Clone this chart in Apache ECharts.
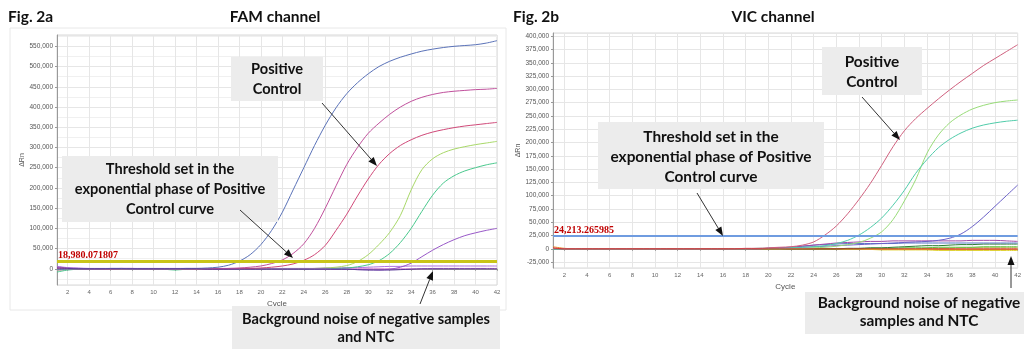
<!DOCTYPE html>
<html>
<head>
<meta charset="utf-8">
<script src="https://cdn.jsdelivr.net/npm/echarts@6/dist/echarts.min.js"></script>
<style>
html,body{margin:0;padding:0;background:#fff;}
#chart{width:1024px;height:349px;}
</style>
</head>
<body>
<div id="chart"></div>
<script>
// cycle numbers (x axis)
var cycles = [1,2,3,4,5,6,7,8,9,10,11,12,13,14,15,16,17,18,19,20,21,22,23,24,25,26,27,28,29,30,31,32,33,34,35,36,37,38,39,40,41,42];

// thresholds (ΔRn)
var famThreshold = 18980.071807;
var vicThreshold = 24213.265985;

// FAM channel curves, ΔRn in thousands
var famBlue = [-2,-1,0,0,0,1,1,0,0,0, 0,0,1,1,2,4,9,19,35,60, 95,140,195,250,305,355,398,433,460,482, 500,513,523,531,538,543,547,550,552,554, 558,564];
var famMagenta = [3,1,0,0,0,0,1,1,0,0, 0,0,0,0,0,0,1,2,4,7, 13,22,38,62,100,150,205,258,300,335, 360,382,400,414,424,431,436,439,441,443, 444,446];
var famCrimson = [1,0,0,0,0,0,0,0,0,0, 0,0,0,0,0,0,0,1,1,2, 4,7,12,21,35,58,95,135,180,222, 258,285,305,319,330,338,344,349,353,356, 359,362];
var famLime = [-3,-1,0,0,0,0,0,0,0,0, 0,-1,0,0,0,0,0,0,0,0, 0,0,0,0,1,2,4,8,18,35, 60,90,132,195,245,272,287,296,302,307, 311,315];
var famGreen = [-8,-3,-1,0,0,0,0,0,0,0, -1,-3,-1,0,0,0,0,0,0,0, 0,0,0,0,0,1,1,2,5,10, 20,38,65,100,142,182,212,230,242,250, 257,262];
var famPurple = [5,2,1,0,0,0,0,0,0,0, 0,0,0,0,0,0,0,0,0,0, 0,0,0,0,0,0,-1,-1,-2,-2, -3,-1,4,14,30,46,60,72,82,89, 95,100];
var famNeg1 = [6,3,2,1,1,1,1,1,1,1, 1,1,1,1,1,1,1,1,1,1, 1,1,1,1,1,2,2,3,3,4, 5,6,6,7,7,7,7,7,7,7, 7,7];
var famNeg2 = [-4,-2,-1,0,0,0,0,0,0,0, 0,0,0,0,0,0,0,0,0,0, 0,0,0,0,0,0,0,0,0,0, 0,0,0,0,0,1,1,1,1,1, 1,1];
var famNeg3 = [2,1,0,0,0,0,0,0,0,0, 0,0,0,0,-1,-1,-1,-1,-1,-1, -1,-1,-1,-1,-1,-1,-1,-1,-2,-3, -3,-3,-2,-1,0,0,0,0,0,0, 0,0];

// VIC channel curves, ΔRn in thousands
var vicCrimson = [1,0,0,0,0,0,0,0,0,0, 0,0,0,0,0,0,0,1,1,2, 3,4,7,13,26,43,66,93,123,157, 192,222,245,264,282,299,315,330,345,358, 371,384];
var vicTeal = [0,0,0,0,0,0,0,0,0,0, 0,0,0,0,0,0,0,0,1,1, 1,2,3,4,6,10,16,26,40,58, 82,110,142,168,190,206,218,227,233,237, 240,242];
var vicLime = [0,0,0,0,0,0,0,0,0,0, 0,0,0,0,0,0,0,0,0,0, 0,1,1,2,3,5,8,12,20,32, 55,90,130,180,214,237,252,263,270,275, 278,280];
var vicViolet = [0,0,0,0,0,0,0,0,0,0, 0,0,0,0,0,0,0,0,0,1, 1,2,3,4,5,6,7,8,9,10, 11,12,13,14,16,20,28,42,60,80, 100,120];
var vicNeg1 = [0,0,0,0,0,0,0,0,0,0, 0,0,0,0,0,0,0,0,0,1, 2,3,5,7,9,11,12,13,14,14, 15,15,15,15,15,15,15,16,16,16, 15,14];
var vicNeg2 = [0,0,0,0,0,0,0,0,0,0, 0,0,0,0,0,0,0,0,0,1, 2,3,5,7,8,9,10,10,10,10, 10,11,11,11,11,11,11,11,11,11, 11,11];
var vicNeg3 = [0,0,0,0,0,0,0,0,0,0, 0,0,0,0,0,0,0,0,0,0, 0,0,0,0,0,0,1,1,2,2, 3,4,5,6,6,7,8,8,9,9, 9,9];
var vicNeg4 = [0,0,0,0,0,0,0,0,0,0, 0,0,0,0,0,0,0,0,0,0, 0,0,0,0,0,0,0,0,1,1, 1,2,2,2,3,3,3,3,4,4, 4,4];
var vicNeg5 = [0,0,0,0,0,0,0,0,0,0, 0,0,0,0,0,0,0,0,0,0, 0,0,0,0,0,0,-1,-1,-1,-2, -2,-2,-2,-2,-3,-3,-3,-3,-3,-3, -3,-3];
var vicNeg6 = [4,1,0,0,0,0,0,0,0,0, 0,0,0,0,0,0,0,0,0,0, 0,0,0,0,0,0,0,0,0,-1, -1,-1,-1,-1,-1,-1,-1,-1,-1,-1, -1,-1];
var vicNeg7 = [0,0,0,0,0,0,0,0,0,0, 0,0,0,0,0,0,0,0,0,0, 0,0,0,0,0,0,0,0,0,0, 0,0,0,1,1,1,2,2,2,2, 2,2];
var vicNeg8 = [2,0,0,0,0,0,0,0,0,0, 0,0,0,0,0,0,0,0,0,0, 0,0,0,0,0,0,0,0,0,0, 0,0,0,0,0,0,0,0,0,0, 0,0];

function pairs(arr) {
    return arr.map(function (v, i) { return [cycles[i], v * 1000]; });
}

function curve(arr, color, idx) {
    return {
        type: 'line',
        xAxisIndex: idx,
        yAxisIndex: idx,
        data: pairs(arr),
        smooth: 0.3,
        symbol: 'none',
        silent: true,
        lineStyle: { color: color, width: 1 },
        z: 3
    };
}

function fmt(v) {
    return String(v).replace(/\B(?=(\d{3})+(?!\d))/g, ',');
}

function threshold(value, color, width) {
    return {
        silent: true,
        symbol: 'none',
        lineStyle: { color: color, width: width, type: 'solid' },
        label: {
            position: 'insideStartTop',
            distance: 1,
            formatter: fmt(Math.floor(value)) + '.' + String(value).split('.')[1],
            color: '#c00000',
            fontFamily: 'Liberation Serif',
            fontWeight: 'bold',
            fontSize: 10
        },
        data: [{ yAxis: value }]
    };
}

function xAx(idx, gap) {
    return {
        type: 'value',
        gridIndex: idx,
        min: 1,
        max: 42,
        minInterval: 2,
        maxInterval: 2,
        name: 'Cycle',
        nameLocation: 'middle',
        nameGap: gap,
        nameTextStyle: { fontFamily: 'Liberation Sans', fontSize: 8, color: '#555' },
        axisLine: { lineStyle: { color: '#999' } },
        axisTick: { length: 2, lineStyle: { color: '#999' } },
        axisLabel: { fontFamily: 'Liberation Sans', fontSize: 6, color: '#666', margin: 4, showMinLabel: false },
        splitLine: { lineStyle: { color: '#e6e6e6' } }
    };
}

function yAx(idx, min, max, step, minor) {
    return {
        type: 'value',
        gridIndex: idx,
        min: min,
        max: max,
        minInterval: step,
        maxInterval: step,
        name: 'ΔRn',
        nameLocation: 'middle',
        nameGap: idx ? 31 : 22,
        nameTextStyle: { fontFamily: 'Liberation Sans', fontSize: 7, color: '#555' },
        axisLine: { show: true, lineStyle: { color: '#999' } },
        axisTick: { show: true, length: 2, lineStyle: { color: '#999' } },
        axisLabel: {
            fontFamily: 'Liberation Sans', fontSize: 6.5, color: '#555', margin: 4,
            showMinLabel: false, showMaxLabel: false,
            formatter: fmt
        },
        splitLine: { lineStyle: { color: '#e6e6e6' } },
        minorTick: { show: false, splitNumber: 2 },
        minorSplitLine: { show: minor, lineStyle: { color: '#f0f0f0' } }
    };
}

var famSeries = [
    curve(famNeg3, '#5a3a9a', 0),
    curve(famNeg2, '#d070c8', 0),
    curve(famNeg1, '#b070e0', 0),
    curve(famGreen, '#48c88c', 0),
    curve(famLime, '#a8d868', 0),
    curve(famPurple, '#9858c8', 0),
    curve(famCrimson, '#d04878', 0),
    curve(famMagenta, '#c0509c', 0),
    curve(famBlue, '#5a72b8', 0)
];
famSeries[0].markLine = threshold(famThreshold, '#c9c418', 3);
famSeries[0].z = 5;

var vicSeries = [
    curve(vicNeg8, '#d83030', 1),
    curve(vicNeg7, '#b0b040', 1),
    curve(vicNeg6, '#e88a2a', 1),
    curve(vicNeg5, '#e0d030', 1),
    curve(vicNeg4, '#60c040', 1),
    curve(vicNeg3, '#2e7d32', 1),
    curve(vicNeg2, '#5878c8', 1),
    curve(vicNeg1, '#a048a8', 1),
    curve(vicViolet, '#6a60c8', 1),
    curve(vicLime, '#98dc78', 1),
    curve(vicTeal, '#50ccaa', 1),
    curve(vicCrimson, '#d0607e', 1)
];
vicSeries[0].markLine = threshold(vicThreshold, '#6f9ce0', 2);
vicSeries[0].z = 5;

function box(x, y, w, h) {
    return { type: 'rect', shape: { x: x, y: y, width: w, height: h }, style: { fill: '#ececec' }, z: 10 };
}
function note(x, y, txt, size, lh) {
    return {
        type: 'text', x: x, y: y, z: 11,
        style: {
            text: txt, fontFamily: 'Lato', fontWeight: 'bold', fontSize: size, fill: '#111',
            align: 'center', textAlign: 'center', verticalAlign: 'middle', textVerticalAlign: 'middle',
            lineHeight: lh
        }
    };
}
function head(x, y, txt, align) {
    return {
        type: 'text', x: x, y: y, z: 11,
        style: {
            text: txt, fontFamily: 'Lato', fontWeight: 'bold', fontSize: 15.5, fill: '#111',
            align: align, textAlign: align, verticalAlign: 'middle', textVerticalAlign: 'middle'
        }
    };
}
function arrow(x1, y1, x2, y2) {
    var a = Math.atan2(y2 - y1, x2 - x1), L = 9, W = 3.5;
    var bx = x2 - L * Math.cos(a), by = y2 - L * Math.sin(a);
    var px = -Math.sin(a) * W, py = Math.cos(a) * W;
    return [
        { type: 'line', shape: { x1: x1, y1: y1, x2: bx, y2: by }, style: { stroke: '#333', lineWidth: 1 }, z: 12 },
        { type: 'polygon', shape: { points: [[x2, y2], [bx + px, by + py], [bx - px, by - py]] }, style: { fill: '#111' }, z: 12 }
    ];
}

var graphics = [
    { type: 'rect', shape: { x: 10, y: 28, width: 496, height: 282 }, style: { fill: 'none', stroke: '#e8e8e8', lineWidth: 1 }, z: 0 },
    head(8, 17, 'Fig. 2a', 'left'),
    head(275, 17, 'FAM channel', 'center'),
    head(513, 17, 'Fig. 2b', 'left'),
    head(773, 17, 'VIC channel', 'center'),
    box(231, 57, 92, 44), note(277, 79, 'Positive\nControl', 14.6, 20),
    box(62, 156, 216, 66), note(170, 189, 'Threshold set in the\nexponential phase of Positive\nControl curve', 14.6, 20),
    box(232, 306, 268, 50), note(366, 328, 'Background noise of negative samples\nand NTC', 14.6, 18),
    box(822, 47, 100, 48), note(872, 72, 'Positive\nControl', 15.4, 20),
    box(598, 122, 226, 67), note(711, 157, 'Threshold set in the\nexponential phase of Positive\nControl curve', 15.4, 20),
    box(805, 292, 240, 42), note(919, 312, 'Background noise of negative\nsamples and NTC', 15.4, 18)
].concat(
    arrow(322, 103, 377, 166),
    arrow(240, 210, 293, 258),
    arrow(420, 304, 433, 271),
    arrow(862, 97, 900, 140),
    arrow(697, 193, 723, 236),
    arrow(1011, 288, 1011, 256)
);

var chart = echarts.init(document.getElementById('chart'), null, { renderer: 'canvas' });
chart.setOption({
    animation: false,
    backgroundColor: '#fff',
    grid: [
        { left: 57, top: 35, width: 440, height: 250, show: true, borderColor: '#d8d8d8', borderWidth: 1 },
        { left: 553, top: 33, width: 470, height: 235, show: true, borderColor: '#d8d8d8', borderWidth: 1 }
    ],
    xAxis: [xAx(0, 13), xAx(1, 15)],
    yAxis: [
        yAx(0, -40000, 578000, 50000, true),
        yAx(1, -36000, 406000, 25000, false)
    ],
    series: famSeries.concat(vicSeries),
    graphic: graphics
});
</script>
</body>
</html>
